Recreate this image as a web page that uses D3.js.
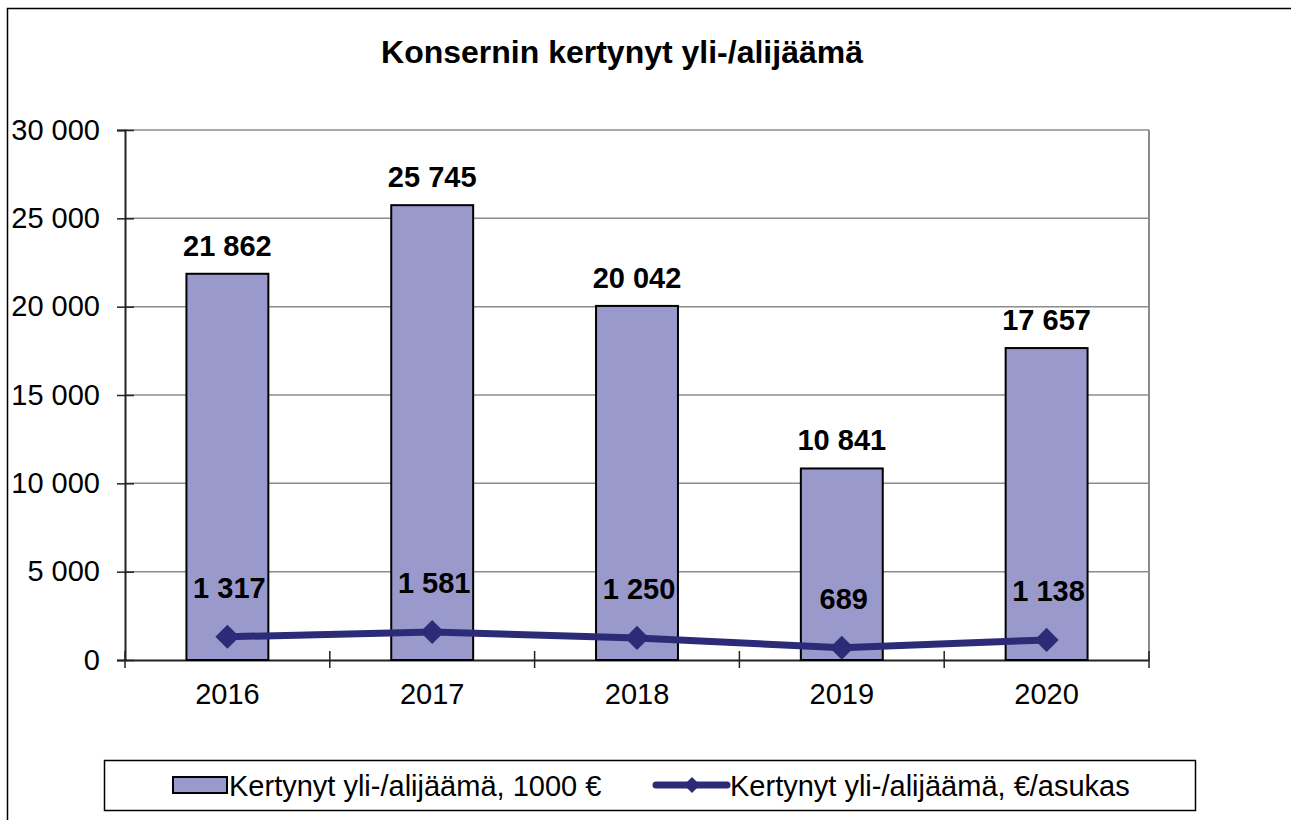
<!DOCTYPE html>
<html>
<head>
<meta charset="utf-8">
<script src="https://cdn.jsdelivr.net/npm/d3@7"></script>
<style>
  body { margin: 0; background: #fff; }
  svg { display: block; font-family: "Liberation Sans", Arial, sans-serif; }
</style>
</head>
<body>
<svg width="1291" height="820"></svg>
<script>
// chart data
const years = ['2016', '2017', '2018', '2019', '2020'];
const totals = [21862, 25745, 20042, 10841, 17657];      // 1000 €
const perResident = [1317, 1581, 1250, 689, 1138];        // €/asukas
const yTicks = [0, 5000, 10000, 15000, 20000, 25000, 30000];
const seriesNames = ['Kertynyt yli-/alijäämä, 1000 €', 'Kertynyt yli-/alijäämä, €/asukas'];

const barFill = '#9999cc';
const lineColor = '#2b2b78';
const fontSize = 29;
const fmt = v => d3.format(',')(v).replace(/,/g, ' ');

const svg = d3.select('svg');

// outer chart border
svg.append('rect')
  .attr('x', 7.5).attr('y', 8.5)
  .attr('width', 1320).attr('height', 840)
  .attr('fill', 'none').attr('stroke', '#000').attr('stroke-width', 1.5);

// title
svg.append('text')
  .attr('x', 622).attr('y', 63)
  .attr('text-anchor', 'middle')
  .attr('font-size', 32).attr('font-weight', 'bold')
  .text('Konsernin kertynyt yli-/alijäämä');

const plotL = 125, plotR = 1149, plotT = 130, plotB = 660;

const x = d3.scaleBand().domain(years).range([plotL, plotR]);
const y = d3.scaleLinear().domain([0, 30000]).range([plotB, plotT]);

// gridlines
svg.append('g')
  .selectAll('line')
  .data(yTicks.slice(1))
  .enter()
  .append('line')
  .attr('x1', plotL).attr('x2', plotR)
  .attr('y1', d => y(d)).attr('y2', d => y(d))
  .attr('stroke', '#8c8c8c').attr('stroke-width', 1.5);

// right border of plot area
svg.append('line')
  .attr('x1', plotR).attr('x2', plotR)
  .attr('y1', plotT).attr('y2', plotB)
  .attr('stroke', '#8c8c8c').attr('stroke-width', 2);

// y axis
const yAxis = svg.append('g')
  .attr('transform', `translate(${plotL},0)`)
  .call(d3.axisLeft(y).tickValues(yTicks).tickFormat(fmt).tickSize(8).tickPadding(17));
yAxis.select('.domain').attr('stroke', '#222').attr('stroke-width', 2);
yAxis.selectAll('.tick line').attr('x1', -8).attr('x2', 9).attr('stroke', '#222').attr('stroke-width', 1.5);
yAxis.selectAll('.tick text').attr('font-size', fontSize).attr('fill', '#000')
  .attr('font-family', '"Liberation Sans", Arial, sans-serif');

// x axis
const xAxis = svg.append('g')
  .attr('transform', `translate(0,${plotB})`)
  .call(d3.axisBottom(x).tickSize(0).tickPadding(22));
xAxis.select('.domain').attr('stroke', '#222').attr('stroke-width', 2);
xAxis.selectAll('.tick text').attr('font-size', fontSize).attr('fill', '#000')
  .attr('y', 44).attr('dy', null)
  .attr('font-family', '"Liberation Sans", Arial, sans-serif');
// category boundary ticks
svg.append('g')
  .selectAll('line')
  .data(years.map(d => x(d)).concat([plotR]))
  .enter()
  .append('line')
  .attr('x1', d => d).attr('x2', d => d)
  .attr('y1', plotB - 9).attr('y2', plotB + 8)
  .attr('stroke', '#222').attr('stroke-width', 1.5);

// bars
const barW = x.bandwidth() * 0.4;
svg.append('g')
  .selectAll('rect')
  .data(totals)
  .enter()
  .append('rect')
  .attr('x', (d, i) => x(years[i]) + (x.bandwidth() - barW) / 2)
  .attr('y', d => y(d))
  .attr('width', barW)
  .attr('height', d => plotB - y(d))
  .attr('fill', barFill)
  .attr('stroke', '#000').attr('stroke-width', 2);

// bar labels
svg.append('g')
  .selectAll('text')
  .data(totals)
  .enter()
  .append('text')
  .attr('x', (d, i) => x(years[i]) + x.bandwidth() / 2)
  .attr('y', d => y(d) - 18)
  .attr('text-anchor', 'middle')
  .attr('font-size', fontSize).attr('font-weight', 'bold')
  .text(fmt);

// line
const cx = (d, i) => x(years[i]) + x.bandwidth() / 2;
const line = d3.line().x(cx).y(d => y(d));
svg.append('path')
  .datum(perResident)
  .attr('d', line)
  .attr('fill', 'none')
  .attr('stroke', lineColor).attr('stroke-width', 7);

const diamond = d3.symbol().type(d3.symbolSquare).size(290);
svg.append('g')
  .selectAll('path')
  .data(perResident)
  .enter()
  .append('path')
  .attr('d', diamond)
  .attr('transform', (d, i) => `translate(${cx(d, i)},${y(d)}) rotate(45)`)
  .attr('fill', lineColor);

// line labels
svg.append('g')
  .selectAll('text')
  .data(perResident)
  .enter()
  .append('text')
  .attr('x', (d, i) => cx(d, i) + 2)
  .attr('y', d => y(d) - 39)
  .attr('text-anchor', 'middle')
  .attr('font-size', fontSize).attr('font-weight', 'bold')
  .text(fmt);

// legend
const legend = svg.append('g');
legend.append('rect')
  .attr('x', 104.5).attr('y', 760.5)
  .attr('width', 1091).attr('height', 50)
  .attr('fill', '#fff').attr('stroke', '#000').attr('stroke-width', 1.5);
legend.append('rect')
  .attr('x', 173).attr('y', 777)
  .attr('width', 54).attr('height', 16)
  .attr('fill', barFill).attr('stroke', '#000').attr('stroke-width', 2);
legend.append('text')
  .attr('x', 229).attr('y', 796)
  .attr('font-size', fontSize)
  .text(seriesNames[0]);
legend.append('line')
  .attr('x1', 656).attr('x2', 727)
  .attr('y1', 785).attr('y2', 785)
  .attr('stroke', lineColor).attr('stroke-width', 7).attr('stroke-linecap', 'round');
legend.append('path')
  .attr('d', d3.symbol().type(d3.symbolSquare).size(130))
  .attr('transform', 'translate(692,785) rotate(45)')
  .attr('fill', lineColor);
legend.append('text')
  .attr('x', 730).attr('y', 796)
  .attr('font-size', fontSize)
  .text(seriesNames[1]);
</script>
</body>
</html>
